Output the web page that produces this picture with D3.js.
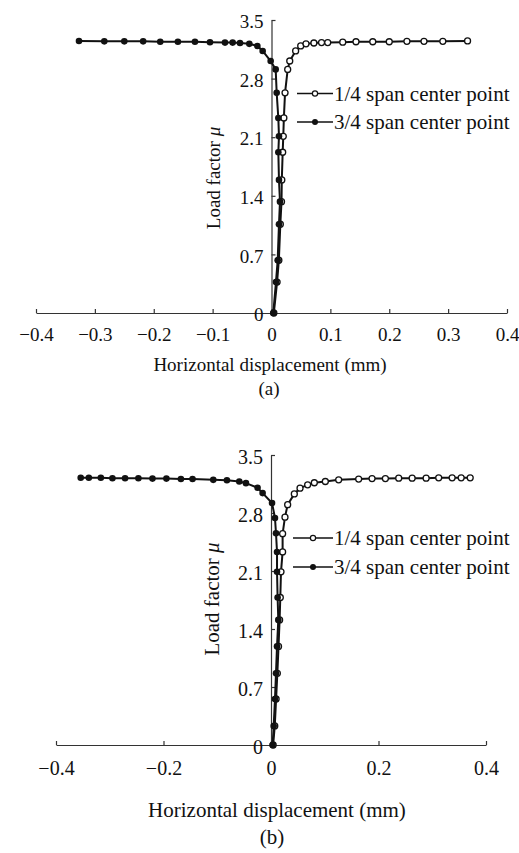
<!DOCTYPE html>
<html>
<head>
<meta charset="utf-8">
<script src="https://cdn.jsdelivr.net/npm/d3@7"></script>
<style>
  body { margin: 0; background: #fff; }
  svg, svg text, svg tspan { font-family: "Liberation Serif", "Times New Roman", "DejaVu Serif", serif !important; }
  svg text { fill: #111; }
</style>
</head>
<body>
<div id="chart"></div>
<script>
// ---- data ----
const yTicks = [0, 0.7, 1.4, 2.1, 2.8, 3.5];
const xTicksA = [-0.4, -0.3, -0.2, -0.1, 0, 0.1, 0.2, 0.3, 0.4];
const xTicksB = [-0.4, -0.2, 0, 0.2, 0.4];
const seriesNames = ["1/4 span center point", "3/4 span center point"];

// panel (a)
const quarterA_mu = [0, 0.37, 0.63, 1.06, 1.33, 1.59, 1.92, 2.11, 2.33, 2.63, 2.91, 3.01, 3.13, 3.19, 3.215, 3.225, 3.23, 3.23, 3.235, 3.24, 3.24, 3.24, 3.245, 3.245, 3.245, 3.25];
const quarterA_x = [0.004, 0.0095, 0.0125, 0.015, 0.017, 0.0175, 0.019, 0.020, 0.021, 0.023, 0.0275, 0.031, 0.041, 0.0496, 0.0586, 0.072, 0.085, 0.0955, 0.121, 0.1435, 0.172, 0.200, 0.230, 0.259, 0.291, 0.333];
const threeA_mu = [0, 0.37, 0.63, 1.06, 1.33, 1.59, 1.92, 2.11, 2.33, 2.63, 2.91, 3.01, 3.13, 3.19, 3.215, 3.225, 3.23, 3.23, 3.235, 3.24, 3.24, 3.24, 3.245, 3.245, 3.245, 3.25];
const threeA_x = [0.003, 0.0076, 0.0105, 0.0127, 0.0144, 0.0127, 0.0116, 0.0127, 0.0116, 0.0088, 0.0071, -0.0014, -0.015, -0.024, -0.0377, -0.0535, -0.066, -0.079, -0.1045, -0.130, -0.159, -0.189, -0.218, -0.250, -0.284, -0.327];

// panel (b)
const quarterB_mu = [0, 0.23, 0.555, 0.865, 1.19, 1.51, 1.78, 2.09, 2.33, 2.55, 2.75, 2.90, 3.03, 3.10, 3.14, 3.165, 3.18, 3.20, 3.21, 3.215, 3.215, 3.22, 3.22, 3.22, 3.225, 3.225, 3.225, 3.225];
const quarterB_x = [0.004, 0.007, 0.0095, 0.0118, 0.014, 0.016, 0.0173, 0.0186, 0.0216, 0.0216, 0.026, 0.031, 0.0434, 0.054, 0.0682, 0.0806, 0.1011, 0.1259, 0.1631, 0.188, 0.2128, 0.2376, 0.2626, 0.2886, 0.312, 0.337, 0.3538, 0.3706];
const threeB_mu = [0, 0.23, 0.555, 0.865, 1.19, 1.51, 1.78, 2.09, 2.33, 2.555, 2.74, 2.92, 3.04, 3.105, 3.16, 3.18, 3.195, 3.20, 3.21, 3.21, 3.215, 3.215, 3.22, 3.22, 3.22, 3.225, 3.225, 3.225];
const threeB_x = [0.003, 0.005, 0.0074, 0.0093, 0.0112, 0.0136, 0.0123, 0.0112, 0.0112, 0.0093, 0.0074, 0.0019, -0.0156, -0.025, -0.0466, -0.059, -0.082, -0.1074, -0.146, -0.1676, -0.1946, -0.2205, -0.2467, -0.2715, -0.295, -0.3166, -0.3389, -0.354];

const SERIF = "'Liberation Serif', 'Times New Roman', 'DejaVu Serif', serif";
const W = 519, H = 853;
const svg = d3.select("#chart").append("svg")
    .attr("width", W).attr("height", H)
    .attr("font-family", SERIF);

const fmt = v => v === 0 ? "0" : (v < 0 ? "\u2212" + Math.abs(v) : String(v));
const pts = (xs, ys) => xs.map((d, i) => ({x: d, mu: ys[i]}));

function drawPanel(p) {
  const x = d3.scaleLinear().domain([-0.4, 0.4]).range(p.xRange);
  const y = d3.scaleLinear().domain([0, 3.5]).range(p.yRange);
  const g = svg.append("g");

  // x axis
  const xa = g.append("g")
      .attr("transform", `translate(0,${y(0)})`)
      .call(d3.axisBottom(x).tickValues(p.xTicks).tickSizeInner(-4).tickSizeOuter(0).tickPadding(p.xPad).tickFormat(fmt));
  xa.attr("font-family", SERIF).attr("font-size", p.tickFont);
  xa.selectAll("line, path").attr("stroke", "#333").attr("stroke-width", 1.2);

  // y axis
  const ya = g.append("g")
      .attr("transform", `translate(${x(0)},0)`)
      .call(d3.axisLeft(y).tickValues(yTicks).tickSizeInner(-4).tickSizeOuter(0).tickPadding(8).tickFormat(fmt));
  ya.attr("font-family", SERIF).attr("font-size", p.tickFont);
  ya.selectAll("text").attr("dy", "0.4em");
  ya.selectAll("line, path").attr("stroke", "#333").attr("stroke-width", 1.2);

  const line = d3.line().x(d => x(d.x)).y(d => y(d.mu));
  const quarter = pts(p.qx, p.qmu), three = pts(p.tx, p.tmu);

  g.append("path").datum(quarter).attr("d", line)
      .attr("fill", "none").attr("stroke", "#111").attr("stroke-width", 2);
  g.selectAll(".q").data(quarter).enter().append("circle")
      .attr("cx", d => x(d.x)).attr("cy", d => y(d.mu)).attr("r", 3)
      .attr("fill", "#fff").attr("stroke", "#111").attr("stroke-width", 1.3);
  g.append("path").datum(three).attr("d", line)
      .attr("fill", "none").attr("stroke", "#111").attr("stroke-width", 2);
  g.selectAll(".t").data(three).enter().append("circle")
      .attr("cx", d => x(d.x)).attr("cy", d => y(d.mu)).attr("r", 3.3)
      .attr("fill", "#111");

  // legend
  seriesNames.forEach((name, i) => {
    const ly = p.legY[i];
    g.append("line").attr("x1", p.legX[0]).attr("x2", p.legX[1])
        .attr("y1", ly).attr("y2", ly).attr("stroke", "#111").attr("stroke-width", 1.6);
    const cx = (p.legX[0] + p.legX[1]) / 2;
    if (i === 0) {
      g.append("circle").attr("cx", cx).attr("cy", ly).attr("r", 2.6)
          .attr("fill", "#fff").attr("stroke", "#111").attr("stroke-width", 1.2);
    } else {
      g.append("circle").attr("cx", cx).attr("cy", ly).attr("r", 3).attr("fill", "#111");
    }
    g.append("text").attr("x", p.legX[1] + 1).attr("y", ly).attr("dy", "0.35em")
        .attr("font-size", p.legFont).text(name);
  });

  // axis titles
  const yt = g.append("text")
      .attr("transform", `translate(${p.yTitle[0]},${p.yTitle[1]}) rotate(-90)`)
      .attr("text-anchor", "middle").attr("dy", "0.35em").attr("font-size", p.titleFont);
  yt.append("tspan").text("Load factor ");
  yt.append("tspan").attr("font-style", "italic").text("\u03bc");

  g.append("text").attr("x", p.xTitle[0]).attr("y", p.xTitle[1]).attr("dy", "0.35em")
      .attr("text-anchor", "middle").attr("font-size", p.titleFont)
      .text("Horizontal displacement (mm)");
  g.append("text").attr("x", p.caption[0]).attr("y", p.caption[1]).attr("dy", "0.35em")
      .attr("text-anchor", "middle").attr("font-size", p.titleFont).text(p.label);
}

drawPanel({
  xRange: [36, 507], yRange: [313, 20], xTicks: xTicksA, xPad: 15,
  qx: quarterA_x, qmu: quarterA_mu, tx: threeA_x, tmu: threeA_mu,
  legX: [297, 333], legY: [93.5, 122], legFont: 21,
  tickFont: 19, titleFont: 19,
  yTitle: [213, 178], xTitle: [270, 364], caption: [269, 388], label: "(a)"
});

drawPanel({
  xRange: [56, 486], yRange: [745, 455], xTicks: xTicksB, xPad: 16,
  qx: quarterB_x, qmu: quarterB_mu, tx: threeB_x, tmu: threeB_mu,
  legX: [293, 333], legY: [538, 567], legFont: 21,
  tickFont: 20, titleFont: 21,
  yTitle: [212, 599], xTitle: [277, 810], caption: [272, 837], label: "(b)"
});
</script>
</body>
</html>
